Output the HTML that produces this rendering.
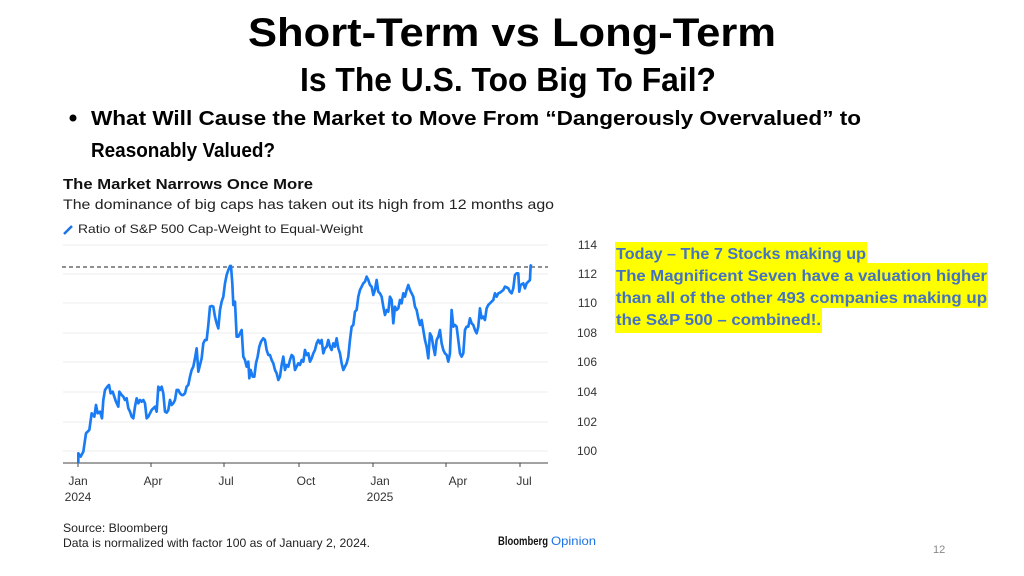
<!DOCTYPE html>
<html><head><meta charset="utf-8"><style>
html,body{margin:0;padding:0;background:#fff;width:1024px;height:576px;overflow:hidden}
svg{display:block}
</style></head><body>
<svg width="1024" height="576" viewBox="0 0 1024 576" xmlns="http://www.w3.org/2000/svg" font-family="Liberation Sans, sans-serif">
<text x="512" y="46" text-anchor="middle" font-size="40" font-weight="bold" textLength="528" lengthAdjust="spacingAndGlyphs">Short-Term vs Long-Term</text>
<text x="508" y="91" text-anchor="middle" font-size="33" font-weight="bold" textLength="416" lengthAdjust="spacingAndGlyphs">Is The U.S. Too Big To Fail?</text>
<circle cx="73" cy="118" r="3.5" fill="#000"/>
<text x="91" y="125" font-size="20" font-weight="bold" textLength="770" lengthAdjust="spacingAndGlyphs">What Will Cause the Market to Move From “Dangerously Overvalued” to</text>
<text x="91" y="157" font-size="20" font-weight="bold" textLength="184" lengthAdjust="spacingAndGlyphs">Reasonably Valued?</text>
<text x="63" y="189" font-size="15" font-weight="bold" fill="#111" textLength="250" lengthAdjust="spacingAndGlyphs">The Market Narrows Once More</text>
<text x="63" y="209" font-size="14" fill="#222" textLength="491" lengthAdjust="spacingAndGlyphs">The dominance of big caps has taken out its high from 12 months ago</text>
<line x1="64" y1="234" x2="72" y2="226" stroke="#1a73e8" stroke-width="2.5"/>
<text x="78" y="233" font-size="12" fill="#222" textLength="285" lengthAdjust="spacingAndGlyphs">Ratio of S&amp;P 500 Cap-Weight to Equal-Weight</text>
<g stroke="#eee" stroke-width="1">
<line x1="63" y1="245" x2="548" y2="245"/><line x1="63" y1="274" x2="548" y2="274"/><line x1="63" y1="303" x2="548" y2="303"/><line x1="63" y1="333" x2="548" y2="333"/><line x1="63" y1="362" x2="548" y2="362"/><line x1="63" y1="392" x2="548" y2="392"/><line x1="63" y1="422" x2="548" y2="422"/><line x1="63" y1="451" x2="548" y2="451"/>
</g>
<g font-size="12" fill="#333" text-anchor="end">
<text x="597" y="249">114</text><text x="597" y="278">112</text><text x="597" y="307">110</text><text x="597" y="337">108</text><text x="597" y="366">106</text><text x="597" y="396">104</text><text x="597" y="426">102</text><text x="597" y="455">100</text>
</g>
<line x1="63" y1="463" x2="548" y2="463" stroke="#444" stroke-width="1"/>
<g stroke="#444"><line x1="78" y1="463" x2="78" y2="467"/><line x1="151" y1="463" x2="151" y2="467"/><line x1="224" y1="463" x2="224" y2="467"/><line x1="299" y1="463" x2="299" y2="467"/><line x1="373" y1="463" x2="373" y2="467"/><line x1="446" y1="463" x2="446" y2="467"/><line x1="520" y1="463" x2="520" y2="467"/></g>
<g font-size="12" fill="#333" text-anchor="middle">
<text x="78" y="485">Jan</text><text x="78" y="501">2024</text><text x="153" y="485">Apr</text><text x="226" y="485">Jul</text><text x="306" y="485">Oct</text><text x="380" y="485">Jan</text><text x="380" y="501">2025</text><text x="458" y="485">Apr</text><text x="524" y="485">Jul</text>
</g>
<line x1="62" y1="267" x2="548" y2="267" stroke="#222" stroke-width="1" stroke-dasharray="4,3"/>
<g transform="translate(60,230) scale(0.3333)">
<polyline fill="none" stroke="#1a7cf5" stroke-width="8" stroke-linejoin="round" points="55,700 55,670 62,680 70,665 78,610 88,600 95,550 103,560 108,525 113,550 120,545 126,565 130,510 135,480 142,470 147,465 152,490 158,485 163,500 168,515 175,530 178,485 185,495 190,500 195,510 200,505 205,535 210,545 215,560 220,565 225,530 230,505 235,520 240,510 245,515 250,510 255,520 260,565 265,560 270,550 275,540 280,535 285,530 290,545 295,470 300,480 305,470 310,490 315,545 320,548 325,540 330,510 335,525 340,520 345,510 350,480 355,480 360,490 365,495 370,495 375,490 380,470 385,465 390,440 395,420 400,410 405,385 410,355 415,425 420,405 425,385 430,340 435,330 440,330 445,285 450,230 455,228 460,230 465,260 470,280 475,295 480,240 485,215 490,200 495,160 500,135 505,120 510,108 513,108 517,160 520,225 525,215 530,320 535,320 540,310 545,300 550,380 555,390 560,410 565,395 568,445 572,420 578,440 583,440 588,400 593,380 598,350 603,335 610,325 615,330 620,360 625,375 630,375 635,390 640,400 645,420 650,430 655,450 660,440 665,405 670,380 675,420 680,405 685,410 690,390 695,375 700,380 705,420 710,410 715,400 720,405 725,390 730,395 735,360 740,375 745,370 750,395 755,385 760,370 765,360 770,340 775,330 780,340 785,330 790,370 795,355 800,350 805,330 810,350 815,360 820,340 825,350 830,325 835,355 840,370 845,400 850,420 855,410 860,400 865,380 870,330 875,290 880,285 885,245 890,240 895,200 900,180 905,170 910,160 915,155 920,140 925,150 930,165 935,170 940,195 945,180 950,150 955,185 960,190 965,200 970,230 975,255 980,240 985,245 990,200 995,210 1000,280 1005,230 1010,240 1015,235 1020,210 1025,220 1030,190 1035,200 1040,180 1045,165 1050,180 1055,190 1060,200 1065,230 1070,240 1075,265 1080,285 1085,270 1090,300 1095,330 1100,350 1105,385 1110,310 1115,320 1120,350 1125,375 1130,330 1135,320 1140,300 1145,340 1150,360 1155,370 1160,375 1165,395 1170,370 1175,240 1180,290 1185,285 1190,290 1195,330 1200,370 1205,380 1210,370 1215,300 1220,290 1225,290 1230,265 1235,280 1240,285 1245,300 1250,310 1255,290 1260,235 1265,265 1270,260 1275,270 1280,235 1285,225 1290,220 1300,210 1305,190 1310,200 1315,190 1320,188 1330,180 1335,170 1340,172 1345,175 1350,185 1355,190 1360,175 1365,135 1370,130 1375,130 1378,185 1382,165 1390,160 1395,175 1400,160 1405,155 1410,150 1412,108 1414,103"/>
</g>
<g font-size="12" fill="#222">
<text x="63" y="532" textLength="105" lengthAdjust="spacingAndGlyphs">Source: Bloomberg</text>
<text x="63" y="547" textLength="307" lengthAdjust="spacingAndGlyphs">Data is normalized with factor 100 as of January 2, 2024.</text>
</g>
<text x="498" y="545" font-size="12" font-weight="bold" fill="#111" textLength="50" lengthAdjust="spacingAndGlyphs">Bloomberg</text>
<text x="551" y="545" font-size="12" fill="#1a73e8" textLength="45" lengthAdjust="spacingAndGlyphs">Opinion</text>
<text x="933" y="553" font-size="11" fill="#888">12</text>
<g fill="#ffff00">
<rect x="615" y="242" width="252" height="22"/>
<rect x="615" y="263" width="373" height="23"/>
<rect x="615" y="285" width="373" height="23"/>
<rect x="615" y="307" width="207" height="26"/>
</g>
<g font-size="16" font-weight="bold" fill="#4472c4">
<text x="616" y="259" textLength="250" lengthAdjust="spacingAndGlyphs">Today – The 7 Stocks making up</text>
<text x="616" y="281" textLength="371" lengthAdjust="spacingAndGlyphs">The Magnificent Seven have a valuation higher</text>
<text x="616" y="303" textLength="371" lengthAdjust="spacingAndGlyphs">than all of the other 493 companies making up</text>
<text x="616" y="325" textLength="205" lengthAdjust="spacingAndGlyphs">the S&amp;P 500 – combined!.</text>
</g>
</svg>
</body></html>
